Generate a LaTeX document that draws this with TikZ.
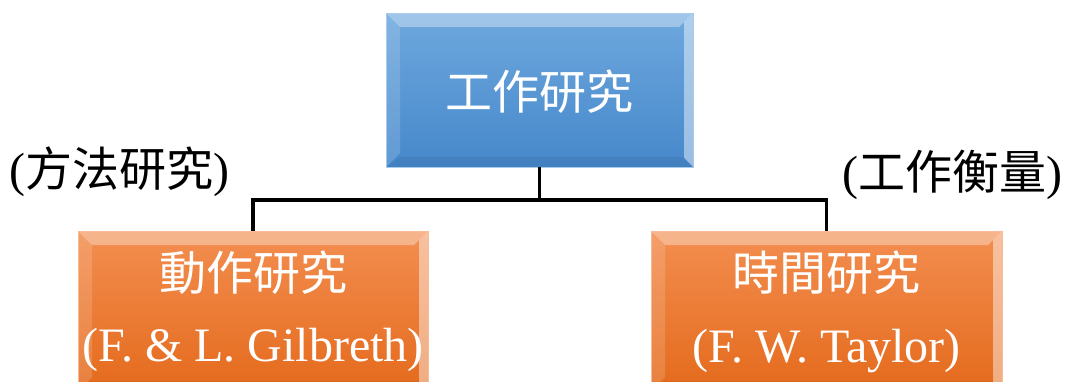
\documentclass[tikz,border=0pt]{standalone}
\usepackage{fontspec}
\setmainfont{Liberation Serif}
\newfontfamily\cjk{Noto Sans CJK TC}
\definecolor{bluetop}{RGB}{110,168,222}
\definecolor{bluebot}{RGB}{70,136,203}
\definecolor{orgtop}{RGB}{243,142,80}
\definecolor{orgbot}{RGB}{228,106,28}
\newcommand{\cjkbig}{\cjk\fontsize{47}{50}\selectfont}
\tikzset{
  bevel/.style={path picture={
    \fill[white,opacity=0.35] (path picture bounding box.north west) -- (path picture bounding box.north east)
      -- ([shift={(-14pt,-14pt)}]path picture bounding box.north east) -- ([shift={(14pt,-14pt)}]path picture bounding box.north west) -- cycle;
    \fill[white,opacity=0.15] (path picture bounding box.north west) -- ([shift={(14pt,-14pt)}]path picture bounding box.north west)
      -- ([shift={(14pt,14pt)}]path picture bounding box.south west) -- (path picture bounding box.south west) -- cycle;
    \fill[white,opacity=0.45] (path picture bounding box.north east) -- ([shift={(-9pt,-9pt)}]path picture bounding box.north east)
      -- ([shift={(-9pt,9pt)}]path picture bounding box.south east) -- (path picture bounding box.south east) -- cycle;
    \fill[black,opacity=0.06] (path picture bounding box.south west) -- ([shift={(14pt,10pt)}]path picture bounding box.south west)
      -- ([shift={(-9pt,10pt)}]path picture bounding box.south east) -- (path picture bounding box.south east) -- cycle;
  }},
  bluebox/.style={inner sep=0pt, top color=bluetop, bottom color=bluebot, draw=bluetop!60!white, line width=0.8pt, bevel},
  orgbox/.style={inner sep=0pt, top color=orgtop, bottom color=orgbot, draw=orgtop!60!white, line width=0.8pt, bevel},
  wtxt/.style={text=white, inner sep=0pt, font=\fontsize{48}{52}\selectfont},
  btxt/.style={text=black, inner sep=0pt, font=\fontsize{48}{52}\selectfont},
  conn/.style={line width=3.5pt, black},
}
\begin{document}
\begin{tikzpicture}[x=1pt,y=-1pt]
\useasboundingbox (0,0) rectangle (1067,381);
\node[bluebox, minimum width=307pt, minimum height=154pt] (top) at (539.5,90) {};
\node[orgbox, minimum width=350pt, minimum height=160pt] (left) at (253,311) {};
\node[orgbox, minimum width=351pt, minimum height=160pt] (right) at (826.5,311) {};
\node[wtxt] (toptxt) at (539.5,92) {\cjkbig 工作研究};
\node[wtxt] (l1) at (253,273) {\cjkbig 動作研究};
\node[wtxt, anchor=base] (l2) at (253,361) {(F. \& L. Gilbreth)};
\node[wtxt] (r1) at (826.5,273) {\cjkbig 時間研究};
\node[wtxt, anchor=base] (r2) at (826.5,362) {(F. W. Taylor)};
\node[btxt, anchor=west] (lab1) at (9,172) {({\cjkbig 方法研究})};
\node[btxt, anchor=east] (lab2) at (1063,175) {({\cjkbig 工作衡量})};
\coordinate (hub) at (539.5,200);
\draw[conn] (top.south) -- (hub);
\draw[conn] (left.north) |- (hub) -| (right.north);
\end{tikzpicture}
\end{document}
